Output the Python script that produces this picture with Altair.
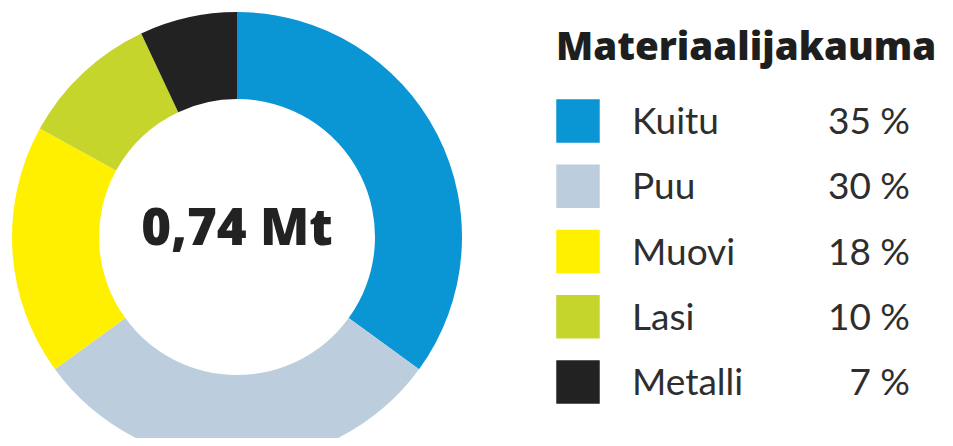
import altair as alt
import pandas as pd

categories = ["Kuitu", "Puu", "Muovi", "Lasi", "Metalli"]
values = [35, 30, 18, 10, 7]
colors = ["#0a96d4", "#bccede", "#fff000", "#c6d52c", "#222222"]
pct_labels = ["35 %", "30 %", "18 %", "10 %", "7 %"]
center_label = "0,74 Mt"
legend_title = "Materiaalijakauma"

df = pd.DataFrame({
    "category": categories,
    "value": values,
    "idx": list(range(len(categories))),
    "pct": pct_labels,
})

color_scale = alt.Scale(domain=categories, range=colors)
y_scale = alt.Scale(domain=categories, range=[113, 374], padding=0)

base = alt.Chart(df)

donut = base.mark_arc(innerRadius=138, outerRadius=225).encode(
    theta=alt.Theta("value:Q", stack=True),
    color=alt.Color("category:N", scale=color_scale, legend=None),
    order=alt.Order("idx:Q"),
    x=alt.value(229),
    y=alt.value(229),
)

center = alt.Chart(pd.DataFrame({"t": [center_label]})).mark_text(
    font="Open Sans", fontSize=51, fontWeight=800, color="#222222",
    align="center", baseline="alphabetic",
).encode(text="t:N", x=alt.value(229), y=alt.value(237))

title = alt.Chart(pd.DataFrame({"t": [legend_title]})).mark_text(
    font="Open Sans", fontSize=38.5, fontWeight=800, color="#1e1e1e",
    align="left", baseline="alphabetic",
).encode(text="t:N", x=alt.value(548), y=alt.value(52))

squares = base.mark_square(size=1890, opacity=1).encode(
    x=alt.value(570),
    y=alt.Y("category:N", scale=y_scale, axis=None),
    color=alt.Color("category:N", scale=color_scale, legend=None),
)

labels = base.mark_text(
    font="Lato", fontSize=37, color="#2e2e2e", align="left", baseline="middle", dy=2,
).encode(
    x=alt.value(624),
    y=alt.Y("category:N", scale=y_scale, axis=None),
    text="category:N",
)

pcts = base.mark_text(
    font="Lato", fontSize=37, color="#2e2e2e", align="right", baseline="middle", dy=2,
).encode(
    x=alt.value(902),
    y=alt.Y("category:N", scale=y_scale, axis=None),
    text="pct:N",
)

chart = alt.layer(donut, center, title, squares, labels, pcts).properties(
    width=937, height=430,
    autosize=alt.AutoSizeParams(type="fit", contains="padding"),
    padding=0,
).configure_view(stroke=None)

chart.save("out.html", embed_options={"renderer": "svg", "actions": False})
